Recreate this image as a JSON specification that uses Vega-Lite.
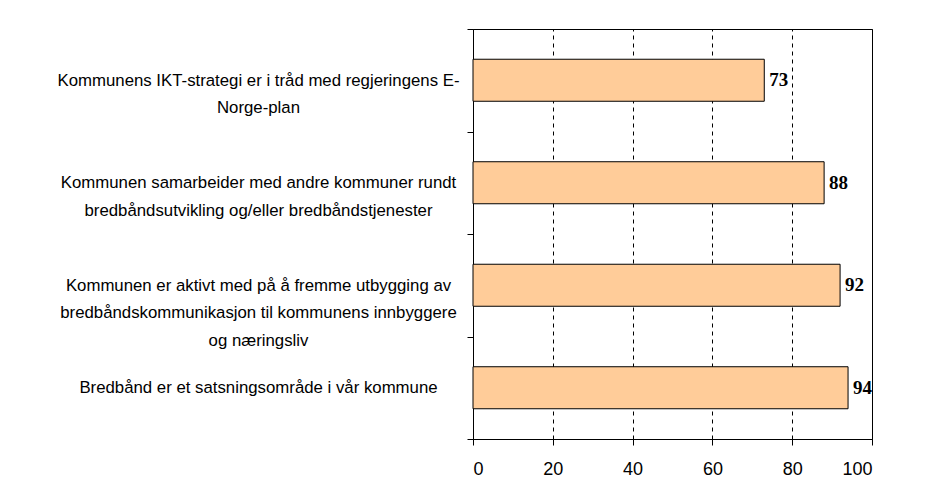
{
  "$schema": "https://vega.github.io/schema/vega-lite/v6.json",
  "autosize": "none",
  "width": 399,
  "height": 410,
  "padding": {"left": 473, "top": 29, "right": 65, "bottom": 60},
  "background": "white",
  "config": {
    "view": {"stroke": "black", "strokeWidth": 1},
    "axis": {
      "domainColor": "black",
      "tickColor": "black",
      "labelColor": "black",
      "labelFont": "Liberation Sans",
      "title": null
    }
  },
  "data": {
    "values": [
      {"statement": "Kommunens IKT-strategi er i tråd med regjeringens E-\nNorge-plan", "pct": 73},
      {"statement": "Kommunen samarbeider med andre kommuner rundt\nbredbåndsutvikling og/eller bredbåndstjenester", "pct": 88},
      {"statement": "Kommunen er aktivt med på å fremme utbygging av\nbredbåndskommunikasjon til kommunens innbyggere\nog næringsliv", "pct": 92},
      {"statement": "Bredbånd er et satsningsområde i vår kommune", "pct": 94}
    ]
  },
  "encoding": {
    "y": {
      "field": "statement",
      "type": "nominal",
      "sort": null,
      "scale": {"paddingInner": 0, "paddingOuter": 0},
      "axis": {
        "tickBand": "extent",
        "tickSize": 6,
        "labelFontSize": 16.8,
        "labelLineHeight": 27.5,
        "labelAlign": "center",
        "labelBaseline": "middle",
        "labelLimit": 0,
        "labelPadding": 209,
        "labelExpr": "split(datum.label, '\\n')",
        "grid": false
      }
    },
    "x": {
      "field": "pct",
      "type": "quantitative",
      "scale": {"domain": [0, 100], "nice": false},
      "axis": {
        "values": [0, 20, 40, 60, 80, 100],
        "tickSize": 6,
        "labelFontSize": 18,
        "labelPadding": 15,
        "grid": true,
        "gridColor": "black",
        "gridDash": [4, 4],
        "gridWidth": 1
      }
    }
  },
  "layer": [
    {
      "mark": {"type": "bar", "height": {"band": 0.41}, "fill": "#FFCC99", "stroke": "black", "strokeWidth": 1}
    },
    {
      "mark": {
        "type": "text",
        "align": "left",
        "baseline": "middle",
        "dx": 5,
        "font": "Liberation Serif",
        "fontWeight": "bold",
        "fontSize": 19,
        "color": "black"
      },
      "encoding": {"text": {"field": "pct", "type": "quantitative"}}
    }
  ]
}
